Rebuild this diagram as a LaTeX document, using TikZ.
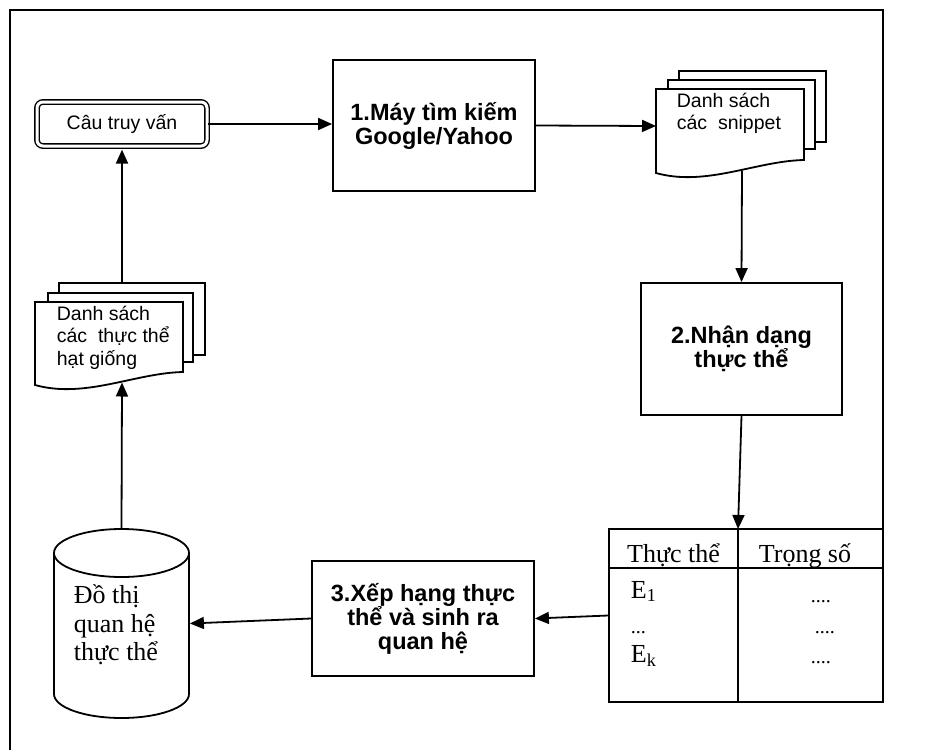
\documentclass[tikz,border=0pt]{standalone}
\usepackage{fontspec}
\setmainfont{Liberation Serif}
\newfontfamily\arialfont{Liberation Sans}
\usetikzlibrary{shapes,arrows.meta}
\usetikzlibrary{positioning}

\begin{document}
\begin{tikzpicture}[x=1pt, y=-1pt, line width=1.8pt,
  proc/.style={draw, align=center, font=\arialfont\bfseries\fontsize{23.5}{24}\selectfont},
  flow/.style={-{Triangle[length=14pt,width=12pt]}},
  page/.style={draw, fill=white},
  doctext/.style={anchor=north west, align=left, inner sep=0pt, font=\arialfont\fontsize{19.5}{22.5}\selectfont},
  serif/.style={font=\fontsize{26}{28.5}\selectfont},
  dots/.style={anchor=base west, inner sep=0pt, font=\fontsize{20}{22}\selectfont}]
  \useasboundingbox (0,0) rectangle (927,750);
  % outer frame
  \draw[line width=2.6pt] (10,750) -- (10,10) -- (883,10) -- (883,703);
  % query box (double border)
  \node[draw, double, double distance=3pt, line width=1.4pt, rounded corners=6pt,
    minimum width=170, minimum height=44,
    font=\arialfont\fontsize{19.5}{22.5}\selectfont] (query) at (122,124) {Câu truy vấn};
  % 1. search engine
  \node[proc, minimum width=202, minimum height=131] (search) at (434,125.5) {1.Máy tìm kiếm\\Google/Yahoo};
  % snippet pages
  \draw[page] (679,71) rectangle (826,142);
  \draw[page] (668,80) rectangle (815,149);
  \draw[page] (804,160) .. controls (756,161) and (706,187) .. (656,173) -- (656,89) -- (804,89) -- cycle;
  \node[doctext] (snippets) at (676,92) {Danh sách\\các~ snippet};
  \coordinate (snipin) at (656,126);
  \coordinate (snipout) at (742,170.5);
  % 2. entity recognition
  \node[proc, minimum width=201, minimum height=132] (detect) at (741.5,349) {2.Nhận dạng\\thực thể};
  % weight table
  \node[draw, minimum width=274, minimum height=173, inner sep=0pt] (weights) at (746,615.5) {};
  \draw (738,529) -- (738,702);
  \draw (609,568) -- (883,568);
  \coordinate (wtop) at (738,529);
  \node[serif, anchor=base] (hname) at (673.5,562) {Thực thể};
  \node[serif, anchor=base] (hweight) at (805,562) {Trọng số};
  \node[serif, anchor=base west, inner sep=0pt] (efirst) at (630,598) {E\textsubscript{1}};
  \node[dots] (emid) at (630,633) {...};
  \node[serif, anchor=base west, inner sep=0pt] (elast) at (630,662) {E\textsubscript{k}};
  \node[dots] (wfirst) at (810,602) {....};
  \node[dots] (wmid) at (814,633) {....};
  \node[dots] (wlast) at (810,663) {....};
  % 3. ranking
  \node[proc, minimum width=222, minimum height=115] (rank) at (423,618.5) {3.Xếp hạng thực\\thể và sinh ra\\quan hệ};
  % relation graph (cylinder)
  \node[minimum width=135, minimum height=189, inner sep=0pt] (graph) at (121.5,623.5) {};
  \draw (121.5,553) ellipse [x radius=67.5pt, y radius=24pt];
  \draw (54,553) -- (54,694) arc[start angle=180, end angle=360, x radius=67.5pt, y radius=24pt] -- (189,553);
  \node[serif, anchor=north west, align=left, inner sep=0pt] (graphtext) at (73,584) {Đồ thị\\quan hệ\\thực thể};
  % seed pages
  \draw[page] (59,283) rectangle (205,355);
  \draw[page] (48,293) rectangle (193,362);
  \draw[page] (183,372) .. controls (135,373) and (85,399) .. (35,385) -- (35,302) -- (183,302) -- cycle;
  \node[doctext] (seeds) at (56,305) {Danh sách\\các~ thực thể\\hạt giống};
  \coordinate (seedtop) at (122,283);
  \coordinate (seedbot) at (122,382.5);
  % connectors
  \draw[flow] (query.east) -- (search.west |- query.east);
  \draw[flow] (search.east) -- (snipin);
  \draw[flow] (snipout) -- (detect.north);
  \draw[flow] (detect.south) -- (wtop);
  \draw[flow] (weights.west) -- (rank.east);
  \draw[flow] (rank.west) -- (graph.east);
  \draw[flow] (graph.north) -- (seedbot);
  \draw[flow, shorten >=2.9pt] (seedtop) -- (query.south);
\end{tikzpicture}
\end{document}
